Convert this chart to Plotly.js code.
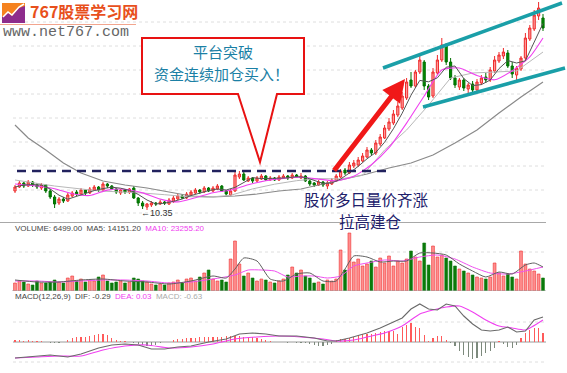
<!DOCTYPE html>
<html><head><meta charset="utf-8">
<script src="https://cdn.plot.ly/plotly-3.0.1.min.js"></script>
<style>html,body{margin:0;padding:0;background:#fff;}#chart{width:567px;height:373px;}</style>
</head><body><div id="chart"></div>
<script>
// ---------- data ----------
const openP = [12.25,12.65,13.05,12.75,13.15,12.85,12.55,12.85,12.25,11.65,
 11.05,11.45,11.25,11.75,12.15,11.95,12.35,12.05,12.35,12.65,
 12.35,12.95,12.75,12.45,12.05,12.35,12.15,12.55,11.55,11.05,
 10.65,10.85,11.05,10.95,11.15,10.95,11.25,11.45,11.75,11.55,
 11.85,12.05,12.35,12.15,12.55,12.25,12.45,12.75,12.25,11.85,
 12.25,13.65,13.95,13.25,13.55,13.25,13.45,13.75,13.35,13.55,
 13.35,13.55,13.75,13.55,13.85,13.55,13.75,13.25,13.05,12.85,
 13.15,12.75,12.95,13.25,13.65,14.35,14.05,14.75,14.85,15.25,
 15.65,16.35,16.05,16.95,17.55,18.45,19.05,19.85,20.55,21.55,
 23.35,22.75,24.15,25.15,22.75,21.75,24.05,25.35,26.75,25.15,
 23.55,22.65,23.35,22.45,22.95,22.35,23.05,23.65,23.35,24.25,
 25.25,25.75,26.05,24.75,23.85,24.45,25.55,27.45,28.45,29.75,
 29.55];
const highP = [12.85,13.25,13.15,13.35,13.25,13.05,13.05,12.95,12.45,11.85,
 11.65,11.65,12.05,12.25,12.35,12.55,12.45,12.65,12.85,12.75,
 13.15,13.05,12.85,12.55,12.45,12.45,12.55,12.75,11.65,11.25,
 11.05,11.25,11.15,11.35,11.25,11.55,11.75,11.95,11.95,12.15,
 12.35,12.55,12.45,12.75,12.65,12.75,12.95,12.85,12.35,12.45,
 14.15,14.25,14.15,13.75,13.65,13.75,13.95,13.85,13.75,13.65,
 13.85,13.95,13.85,14.05,13.95,14.05,13.85,13.35,13.15,13.35,
 13.25,13.25,13.55,13.95,14.45,14.55,15.15,15.35,15.65,16.05,
 16.65,16.55,17.35,17.95,18.85,19.55,20.35,21.15,22.15,23.55,
 24.15,24.35,25.75,25.35,22.95,24.55,25.85,27.55,27.05,25.55,
 23.85,23.55,23.55,23.05,23.25,23.45,23.85,24.05,24.65,25.75,
 26.15,26.55,26.35,25.15,24.75,25.75,28.05,28.85,30.35,31.15,
 29.95];
const lowP = [12.05,12.55,12.55,12.65,12.65,12.45,12.35,12.05,11.45,10.55,
 10.85,11.05,11.15,11.65,11.75,11.85,11.85,11.95,12.25,12.15,
 12.25,12.55,12.35,11.95,11.85,11.95,11.95,11.45,10.75,10.45,
 10.35,10.65,10.75,10.85,10.85,10.85,11.05,11.35,11.45,11.45,
 11.75,11.95,11.95,12.05,12.15,12.15,12.35,12.15,11.75,11.75,
 12.15,13.45,13.25,13.15,13.05,13.15,13.35,13.25,13.25,13.25,
 13.25,13.45,13.35,13.45,13.55,13.45,13.15,12.75,12.65,12.75,
 12.65,12.45,12.85,13.15,13.55,13.85,13.95,14.55,14.65,15.15,
 15.55,15.85,15.85,16.75,17.45,18.25,18.85,19.65,20.35,21.35,
 22.55,22.55,23.95,22.35,21.35,21.55,23.85,25.15,24.85,23.35,
 22.55,22.35,22.25,22.05,22.15,22.15,22.85,23.05,23.15,24.05,
 25.05,25.45,24.55,23.55,23.35,24.25,25.35,27.25,28.25,29.35,
 28.25];
const closeP = [12.65,13.05,12.75,13.15,12.85,12.65,12.85,12.25,11.65,10.95,
 11.45,11.25,11.85,12.05,11.95,12.35,12.05,12.45,12.65,12.35,
 12.95,12.75,12.45,12.15,12.35,12.15,12.45,11.55,11.05,10.75,
 10.95,11.05,10.95,11.15,11.05,11.35,11.55,11.75,11.55,11.95,
 12.15,12.35,12.15,12.55,12.25,12.55,12.75,12.25,11.95,12.25,
 13.85,13.95,13.35,13.55,13.25,13.55,13.75,13.35,13.55,13.35,
 13.65,13.75,13.55,13.85,13.65,13.75,13.25,12.95,12.85,13.15,
 12.85,13.05,13.35,13.75,14.25,14.05,14.85,15.05,15.35,15.75,
 16.35,16.05,17.05,17.65,18.55,19.15,19.95,20.75,21.75,23.15,
 22.75,24.15,25.35,22.75,21.65,24.15,25.35,26.85,25.15,23.55,
 22.85,23.35,22.55,22.85,22.35,23.15,23.55,23.35,24.35,25.35,
 25.85,26.15,24.75,23.95,24.55,25.55,27.55,28.55,29.85,30.55,
 28.55];
const volume = [4000,5000,4500,3500,3000,5000,4000,4000,4500,5500,
 4500,4000,6500,7500,5000,6000,4500,5500,5000,7000,
 8000,5000,4000,4500,5000,4000,4500,6500,6000,5000,
 4500,3500,3000,3500,3000,4000,4500,5500,4000,6000,
 6500,5000,7000,9000,10500,6000,5000,5500,4500,16000,
 25000,13500,7500,9000,6500,5000,6000,5500,4500,4000,
 5000,6000,8000,12000,9000,10500,7500,6500,4000,4500,
 3500,5500,5000,6000,20500,10500,29000,14500,16000,12500,
 13500,15000,12000,16500,14000,17500,12500,15000,14000,16000,
 20000,17000,15000,24000,13000,22500,17000,18000,16500,15000,
 12500,11000,10000,9000,8000,7000,6500,6000,7000,14000,
 9000,7500,8500,7000,6000,20000,13500,11000,10000,8500,
 6499];
const macdHist = [0.04,0.04,0.03,0.04,0.03,0.02,0.02,0.01,-0.01,-0.02,
 -0.01,0.01,0.04,0.08,0.10,0.10,0.11,0.12,0.14,0.16,
 0.16,0.14,0.08,0.04,0.02,0.02,0.01,-0.02,-0.04,-0.06,
 -0.08,-0.08,-0.06,-0.02,0.00,0.01,0.04,0.06,0.06,0.08,
 0.08,0.09,0.10,0.10,0.10,0.10,0.10,0.11,0.12,0.12,
 0.12,0.12,0.11,0.10,0.10,0.08,0.06,0.04,0.02,0.01,
 0.01,0.00,-0.01,0.01,-0.01,-0.01,-0.02,-0.04,-0.06,-0.08,
 -0.08,-0.06,-0.04,0.04,0.06,0.06,0.08,0.10,0.14,0.16,
 0.16,0.16,0.18,0.20,0.22,0.22,0.22,0.16,0.30,0.34,
 0.38,0.30,0.28,0.14,0.02,0.08,0.12,0.12,0.04,-0.02,
 -0.08,-0.18,-0.26,-0.30,-0.34,-0.32,-0.28,-0.22,-0.18,-0.12,
 0.02,-0.04,-0.10,-0.12,-0.06,0.08,0.18,0.24,0.28,0.28,
 0.18];

// moving-average lines (candle index, value)
const ma5Idx = [0,2,4,6,8,10,12,14,16,18,20,22,24,26,28,30,32,34,36,38,40,42,44,46,48,50,52,54,56,58,60,62,64,66,68,70,72,74,76,78,80,82,84,86,88,90,92,94,96,98,100,102,104,106,108,110,112,114,116,118,120];
const ma5Val = [12.65,12.85,12.89,12.85,12.45,11.83,11.43,11.71,12.05,12.29,12.49,12.63,12.53,12.31,11.91,11.35,10.95,11.03,11.21,11.45,11.79,12.03,12.29,12.45,12.35,12.61,13.07,13.59,13.49,13.49,13.53,13.57,13.69,13.61,13.29,13.01,13.05,13.45,14.05,14.71,15.47,16.11,17.13,18.47,20.03,21.83,23.31,23.17,23.57,24.63,24.75,23.49,22.79,22.89,23.35,24.49,25.29,25.05,25.27,27.21,29.01];
const ma10Idx = [0,5,9,13,17,21,25,29,33,37,41,45,49,53,57,61,65,69,73,77,81,85,89,93,97,101,105,109,113,117,120];
const ma10Val = [12.95,12.75,12.48,11.98,11.80,12.34,12.43,12.06,11.44,11.16,11.58,12.08,12.32,12.87,13.28,13.51,13.62,13.44,13.26,13.72,14.88,16.58,19.04,21.75,24.35,24.55,23.80,23.37,24.28,25.66,27.55];
const ma20Idx = [0,9,19,24,29,34,39,44,49,54,59,64,69,74,79,84,89,94,99,104,109,114,120];
const ma20Val = [13.35,12.75,12.26,12.17,12.05,11.88,11.69,11.63,11.82,12.46,12.93,13.28,13.49,13.46,13.82,16.35,18.35,20.85,23.55,24.05,24.15,24.25,26.15];
const ma60Idx = [0,3,7,11,15,20,25,30,35,40,45,50,55,60,65,70,75,80,85,90,95,100,105,110,115,120];
const ma60Val = [18.85,17.55,16.35,15.05,14.05,13.25,12.85,12.55,12.15,11.75,11.65,11.75,11.95,12.25,12.45,12.95,13.45,13.95,14.55,15.05,15.85,17.05,18.35,20.05,21.65,23.15];

const volMa5Idx = [0,5,10,15,20,25,30,35,40,45,48,50,52,55,58,61,64,67,70,73,75,77,80,83,86,89,92,95,98,101,104,107,110,113,116,118,120];
const volMa5Val = [5500,4500,4500,5500,6000,5000,4500,3500,5000,7500,6500,11000,16500,15000,6000,5000,8500,9000,5000,5000,11000,17500,17000,14500,15000,15000,19000,19000,18000,13500,10000,7000,9500,8500,13000,14000,12000];
const volMa10Idx = [0,5,10,15,20,25,30,35,40,45,50,53,56,59,62,65,68,71,74,77,80,84,88,92,96,100,104,108,112,116,120];
const volMa10Val = [5000,5000,4500,5000,5500,5500,5000,4000,4500,6000,8000,10500,10500,10000,7000,7500,7500,6500,7500,12500,14000,15500,15000,17000,18000,16000,12000,9000,8500,10000,12000];

const difIdx = [0,5,8,12,15,19,22,25,28,31,34,37,40,44,48,51,54,57,60,64,68,71,73,76,80,83,86,88,90,92,94,96,98,100,102,104,106,108,110,112,114,116,118,120];
const difVal = [-0.32,-0.28,-0.26,-0.30,-0.24,-0.12,-0.06,-0.04,-0.06,-0.14,-0.14,-0.10,-0.08,0.00,0.06,0.16,0.18,0.16,0.12,0.12,0.08,0.02,0.02,0.08,0.18,0.28,0.40,0.48,0.66,0.76,0.66,0.64,0.76,0.72,0.52,0.36,0.24,0.22,0.24,0.30,0.20,0.22,0.44,0.50];
const deaIdx = [0,5,10,15,20,25,30,35,40,45,50,55,60,65,70,73,77,80,84,88,92,95,98,101,104,107,110,113,116,120];
const deaVal = [-0.32,-0.30,-0.28,-0.28,-0.16,-0.08,-0.06,-0.12,-0.10,-0.04,0.06,0.10,0.12,0.10,0.06,0.02,0.04,0.10,0.18,0.32,0.56,0.64,0.70,0.72,0.60,0.44,0.32,0.28,0.24,0.44];

const idx = closeP.map((_, i) => i);

// ---------- layout helpers (pixel -> paper) ----------
const W = 567, H = 373;
const X = p => p / W;
const Y = p => 1 - p / H;
const path = pts => pts.map((p, k) => (k ? 'L' : 'M') + X(p[0]).toFixed(5) + ',' + Y(p[1]).toFixed(5)).join(' ');

const isUp = closeP.map((c, i) => c >= openP[i]);
const volFill = isUp.map(u => u ? '#ff8e8e' : '#0b7a0b');
const volLine = isUp.map(u => u ? '#ec3030' : '#0b7a0b');
const macdCol = macdHist.map(v => v >= 0 ? '#ff5a5a' : '#7d8a7d');

const traces = [
  {type:'candlestick', x: idx, open: openP, high: highP, low: lowP, close: closeP, xaxis:'x', yaxis:'y',
   increasing:{line:{color:'#ee2a2a', width:1}, fillcolor:'#ff9c9c'},
   decreasing:{line:{color:'#007000', width:1}, fillcolor:'#008a00'},
   whiskerwidth:0, hoverinfo:'skip'},
  {type:'scatter', mode:'lines', x: ma60Idx, y: ma60Val, yaxis:'y', line:{color:'#8a8a8a', width:1.2}},
  {type:'scatter', mode:'lines', x: ma20Idx, y: ma20Val, yaxis:'y', line:{color:'#b8b8b8', width:1}},
  {type:'scatter', mode:'lines', x: ma10Idx, y: ma10Val, yaxis:'y', line:{color:'#f040f0', width:1.1, shape:'spline', smoothing:0.6}},
  {type:'scatter', mode:'lines', x: ma5Idx, y: ma5Val, yaxis:'y', line:{color:'#555555', width:1}},

  {type:'bar', x: idx, y: volume, yaxis:'y2', width:0.64,
   marker:{color: volFill, line:{color: volLine, width:0.6}}},
  {type:'scatter', mode:'lines', x: volMa10Idx, y: volMa10Val, yaxis:'y2', line:{color:'#f050f0', width:1, shape:'spline', smoothing:0.6}},
  {type:'scatter', mode:'lines', x: volMa5Idx, y: volMa5Val, yaxis:'y2', line:{color:'#606060', width:1, shape:'spline', smoothing:0.6}},

  {type:'bar', x: idx, y: macdHist, yaxis:'y3', width:0.3, marker:{color: macdCol}},
  {type:'scatter', mode:'lines', x: deaIdx, y: deaVal, yaxis:'y3', line:{color:'#f040f0', width:1.1, shape:'spline', smoothing:0.5}},
  {type:'scatter', mode:'lines', x: difIdx, y: difVal, yaxis:'y3', line:{color:'#6a6a6a', width:1.1}}
];

const hidden = {showgrid:false, zeroline:false, showticklabels:false, showline:false, ticks:''};

const shapes = [];
// faint dotted grid rows
[22, 46, 70, 94, 118, 142, 166, 190, 213].forEach(y => shapes.push({type:'line', xref:'paper', yref:'paper', x0:X(13), x1:X(546), y0:Y(y), y1:Y(y), line:{color:'#dedede', width:1, dash:'dot'}, layer:'below'}));
[252, 322, 362].forEach(y => shapes.push({type:'line', xref:'paper', yref:'paper', x0:X(13), x1:X(546), y0:Y(y), y1:Y(y), line:{color:'#dedede', width:1, dash:'dot'}, layer:'below'}));
// panel separators
shapes.push({type:'line', xref:'paper', yref:'paper', x0:0, x1:X(546), y0:Y(222.5), y1:Y(222.5), line:{color:'#a8a8a8', width:1}});
shapes.push({type:'line', xref:'paper', yref:'y2', x0:X(12), x1:X(546), y0:0, y1:0, line:{color:'#a8a8a8', width:1}});
shapes.push({type:'line', xref:'paper', yref:'y3', x0:X(13), x1:X(546), y0:0, y1:0, line:{color:'#9a9a9a', width:1}, layer:'below'});
// platform dashed line
shapes.push({type:'line', xref:'paper', yref:'paper', x0:X(17), x1:X(390), y0:Y(171), y1:Y(171), line:{color:'#22225e', width:2.6, dash:'9px,6px'}});
// channel lines
shapes.push({type:'line', xref:'paper', yref:'paper', x0:X(383), y0:Y(68), x1:X(562), y1:Y(3), line:{color:'#1a9fa8', width:3.5}});
shapes.push({type:'line', xref:'paper', yref:'paper', x0:X(423), y0:Y(107), x1:X(565), y1:Y(68), line:{color:'#1a9fa8', width:3.5}});
// callout box
shapes.push({type:'path', xref:'paper', yref:'paper',
  path: path([[142,38],[304,38],[304,94],[277,94],[260,162],[238,94],[142,94]]) + ' Z',
  fillcolor:'#ffffff', line:{color:'#e81212', width:2}});
// logo icon
shapes.push({type:'rect', xref:'paper', yref:'paper', x0:X(2), x1:X(25), y0:Y(23), y1:Y(3), fillcolor:'#f5821f', line:{width:0}});
shapes.push({type:'path', xref:'paper', yref:'paper', path: path([[2,23],[2,17],[8,13],[12,16],[19,8],[25,6],[25,23]]) + ' Z', fillcolor:'#8e2c8c', line:{width:0}});
shapes.push({type:'path', xref:'paper', yref:'paper', path: path([[3,17],[8,12],[12,15],[19,7],[24,4]]), line:{color:'#ffffff', width:1.5}});
shapes.push({type:'line', xref:'paper', yref:'paper', x0:0, x1:X(136), y0:Y(24.5), y1:Y(24.5), line:{color:'#f2a58e', width:1}});

const cjk = '"Noto Sans CJK SC", "Noto Sans", sans-serif';
const ann = (x, y, text, font, xanchor) => ({xref:'paper', yref:'paper', x:X(x), y:Y(y), text, showarrow:false, xanchor: xanchor || 'center', yanchor:'middle', font});

const annotations = [
  ann(28, 11, '767股票学习网', {family: cjk, size: 16, color:'#e8501c', weight: 700}, 'left'),
  ann(1, 32, 'www.net767.com', {family:'"Liberation Mono", "DejaVu Sans Mono", monospace', size: 15, color:'#666666'}, 'left'),
  ann(223, 52, '平台突破', {family: cjk, size: 15, color:'#1b80a5'}),
  ann(221, 73, '资金连续加仓买入！', {family: cjk, size: 15, color:'#1b80a5'}),
  ann(366, 198.5, '股价多日量价齐涨', {family: cjk, size: 15.5, color:'#20206a'}),
  ann(370, 221, '拉高建仓', {family: cjk, size: 15.5, color:'#20206a'}),
  ann(139, 213, '←10.35', {family:'"Liberation Sans", Arial, sans-serif', size: 9, color:'#333333'}, 'left'),
  ann(13, 228.5, 'VOLUME: 6499.00  MA5: 14151.20  <span style="color:#f040f0">MA10: 23255.20</span>', {family:'"Liberation Sans", Arial, sans-serif', size: 8, color:'#444444'}, 'left'),
  ann(13, 296, 'MACD(12,26,9)  DIF: -0.29  <span style="color:#f040f0">DEA: 0.03</span>  <span style="color:#aaaaaa">MACD: -0.63</span>', {family:'"Liberation Sans", Arial, sans-serif', size: 8, color:'#444444'}, 'left'),
  {xref:'paper', yref:'paper', x:X(405), y:Y(79), ax:333-405, ay:172-79, axref:'pixel', ayref:'pixel', text:'', showarrow:true,
   arrowhead:2, arrowsize:0.9, arrowwidth:5, arrowcolor:'#f01818'}
];

const layout = {
  width: W, height: H, margin:{l:0, r:0, t:0, b:0},
  paper_bgcolor:'#ffffff', plot_bgcolor:'#ffffff', showlegend:false, bargap:0,
  xaxis: Object.assign({domain:[12.8/W, 545.2/W], range:[-0.5, 120.5], rangeslider:{visible:false}, anchor:'y3'}, hidden),
  yaxis: Object.assign({domain:[Y(222), 1], range:[9.15, 31.35], anchor:'x'}, hidden),
  yaxis2: Object.assign({domain:[Y(291), Y(232)], range:[0, 29500], anchor:'x'}, hidden),
  yaxis3: Object.assign({domain:[0, Y(300)], range:[-0.62, 0.84], anchor:'x'}, hidden),
  shapes, annotations
};

Plotly.newPlot('chart', traces, layout, {staticPlot:true, displayModeBar:false});
</script></body></html>
